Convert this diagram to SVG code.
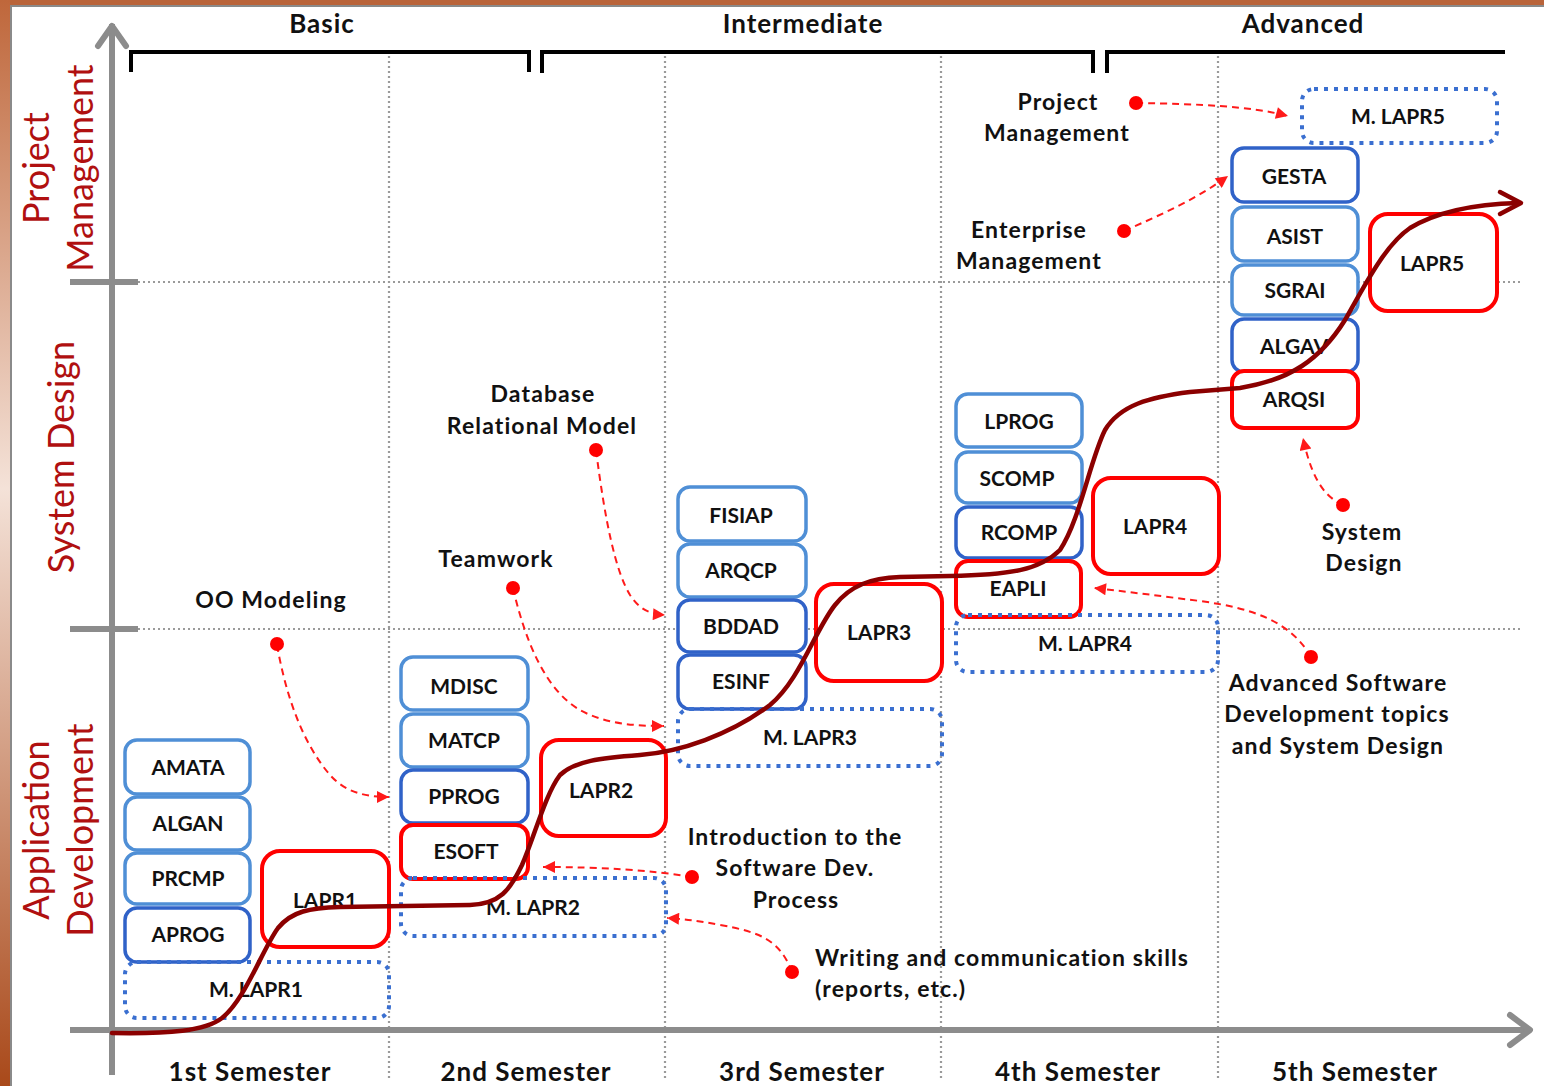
<svg xmlns="http://www.w3.org/2000/svg" width="1544" height="1086" viewBox="0 0 1544 1086">
  <defs>
    <linearGradient id="edge" x1="0" y1="0" x2="0" y2="1">
      <stop offset="0" stop-color="#bf673b"/>
      <stop offset="0.45" stop-color="#f4e2d8"/>
      <stop offset="1" stop-color="#a9491a"/>
    </linearGradient>
    <marker id="tip" viewBox="0 0 10 10" refX="10" refY="5" markerUnits="userSpaceOnUse" markerWidth="15" markerHeight="12" orient="auto">
      <path d="M0,0 L10,5 L0,10 z" fill="#ff1a1a"/>
    </marker>
    <style>
      .axis { stroke: #8c8c8c; stroke-width: 6; fill: none; }
      .grid { stroke: #9a9a9a; stroke-width: 2.2; stroke-dasharray: 2 3; fill: none; }
      .brace { stroke: #000; stroke-width: 4; fill: none; }
      .course { fill: #fff; stroke: #4f8fd6; stroke-width: 3.5; }
      .course.dark { stroke: #3062c8; }
      .proj { fill: #fff; stroke: #ff0000; stroke-width: 4; }
      .mentor { fill: none; stroke: #3a6fd0; stroke-width: 4; stroke-dasharray: 4 6; }
      .lbl { font-family: Lato, "Liberation Sans", sans-serif; font-weight: bold; font-size: 21px; fill: #111; text-anchor: middle; }
      .note { font-family: Lato, "Liberation Sans", sans-serif; font-weight: bold; font-size: 23px; letter-spacing: 1.1px; fill: #111; text-anchor: middle; }
      .note.left { text-anchor: start; }
      .head { font-family: Lato, "Liberation Sans", sans-serif; font-weight: bold; font-size: 26px; letter-spacing: 1px; fill: #111; text-anchor: middle; }
      .area { font-family: Lato, "Liberation Sans", sans-serif; font-size: 36px; fill: #b01010; text-anchor: middle; }
      .hint { stroke: #ff1a1a; stroke-width: 2; stroke-dasharray: 7 5; fill: none; }
      .dot { fill: #ff0000; }
      .trend { stroke: #8b0000; stroke-width: 4.5; fill: none; stroke-linecap: round; stroke-linejoin: round; }
    </style>
  </defs>

  <!-- page frame -->
  <rect x="0" y="0" width="1544" height="1086" fill="#fff"/>
  <rect x="0" y="0" width="1544" height="5" fill="#b9643a"/>
  <rect x="0" y="5" width="1544" height="2" fill="#8a8a8a"/>
  <rect x="0" y="0" width="10" height="1086" fill="url(#edge)"/>
  <rect x="10" y="5" width="2" height="1081" fill="#8a8a8a"/>

  <!-- grid -->
  <g id="grid">
    <path class="grid" d="M138,282 H1522 M138,629 H1522"/>
    <path class="grid" d="M389,56 V1080 M665,56 V1080 M941,56 V1080 M1218,56 V1080"/>
  </g>

  <!-- axes -->
  <g id="axes">
    <path class="axis" d="M112,24 V1075"/>
    <path class="axis" d="M98,46 L112,26 L126,46" stroke-linecap="round" stroke-linejoin="round"/>
    <path class="axis" d="M70,1030 H1530"/>
    <path class="axis" d="M1510,1015 L1530,1030 L1510,1045" stroke-linecap="round" stroke-linejoin="round"/>
    <path class="axis" d="M70,282 H138 M70,629 H138" stroke-width="8"/>
  </g>

  <!-- level braces -->
  <g id="levels">
    <path class="brace" d="M131,72 V52 H529 V72"/>
    <path class="brace" d="M542,73 V52 H1093 V73"/>
    <path class="brace" d="M1107,73 V52 H1505"/>
    <text class="head" x="322" y="33">Basic</text>
    <text class="head" x="803" y="33">Intermediate</text>
    <text class="head" x="1303" y="33">Advanced</text>
  </g>

  <!-- area titles -->
  <g id="areas">
    <text class="area" transform="translate(49,168) rotate(-90)">Project</text>
    <text class="area" transform="translate(93,168) rotate(-90)">Management</text>
    <text class="area" transform="translate(74,457) rotate(-90)">System Design</text>
    <text class="area" transform="translate(49,830) rotate(-90)">Application</text>
    <text class="area" transform="translate(93,830) rotate(-90)">Development</text>
  </g>

  <!-- semester labels -->
  <g id="semesters">
    <text class="head" x="250" y="1081">1st Semester</text>
    <text class="head" x="526" y="1081">2nd Semester</text>
    <text class="head" x="802" y="1081">3rd Semester</text>
    <text class="head" x="1078" y="1081">4th Semester</text>
    <text class="head" x="1355" y="1081">5th Semester</text>
  </g>

  <!-- 1st semester -->
  <g id="amata"><rect class="course" x="125" y="740" width="125" height="54" rx="12"/><text class="lbl" x="188" y="775">AMATA</text></g>
  <g id="algan"><rect class="course" x="125" y="797" width="125" height="53" rx="12"/><text class="lbl" x="188" y="831">ALGAN</text></g>
  <g id="prcmp"><rect class="course" x="125" y="853" width="125" height="51" rx="12"/><text class="lbl" x="188" y="886">PRCMP</text></g>
  <g id="aprog"><rect class="course dark" x="125" y="908" width="125" height="54" rx="12"/><text class="lbl" x="188" y="942">APROG</text></g>
  <g id="lapr1"><rect class="proj" x="262" y="851" width="127" height="96" rx="18"/><text class="lbl" x="325" y="908">LAPR1</text></g>
  <g id="m-lapr1"><rect class="mentor" x="125" y="962" width="264" height="56" rx="12"/><text class="lbl" x="256" y="997">M. LAPR1</text></g>

  <!-- 2nd semester -->
  <g id="mdisc"><rect class="course" x="401" y="657" width="127" height="53" rx="12"/><text class="lbl" x="464" y="694">MDISC</text></g>
  <g id="matcp"><rect class="course" x="401" y="714" width="127" height="53" rx="12"/><text class="lbl" x="464" y="748">MATCP</text></g>
  <g id="pprog"><rect class="course dark" x="401" y="770" width="127" height="53" rx="12"/><text class="lbl" x="464" y="804">PPROG</text></g>
  <g id="esoft"><rect class="proj" x="401" y="825" width="127" height="54" rx="12"/><text class="lbl" x="466" y="859">ESOFT</text></g>
  <g id="lapr2"><rect class="proj" x="541" y="740" width="125" height="96" rx="18"/><text class="lbl" x="601" y="798">LAPR2</text></g>
  <g id="m-lapr2"><rect class="mentor" x="401" y="878" width="265" height="58" rx="12"/><text class="lbl" x="533" y="915">M. LAPR2</text></g>

  <!-- 3rd semester -->
  <g id="fisiap"><rect class="course" x="678" y="487" width="128" height="54" rx="12"/><text class="lbl" x="741" y="523">FISIAP</text></g>
  <g id="arqcp"><rect class="course" x="678" y="544" width="128" height="53" rx="12"/><text class="lbl" x="741" y="578">ARQCP</text></g>
  <g id="bddad"><rect class="course dark" x="678" y="600" width="128" height="52" rx="12"/><text class="lbl" x="741" y="634">BDDAD</text></g>
  <g id="esinf"><rect class="course dark" x="678" y="655" width="128" height="54" rx="12"/><text class="lbl" x="741" y="689">ESINF</text></g>
  <g id="lapr3"><rect class="proj" x="816" y="584" width="126" height="97" rx="18"/><text class="lbl" x="879" y="640">LAPR3</text></g>
  <g id="m-lapr3"><rect class="mentor" x="678" y="709" width="264" height="57" rx="12"/><text class="lbl" x="810" y="745">M. LAPR3</text></g>

  <!-- 4th semester -->
  <g id="lprog"><rect class="course" x="956" y="394" width="126" height="53" rx="12"/><text class="lbl" x="1019" y="429">LPROG</text></g>
  <g id="scomp"><rect class="course" x="956" y="452" width="126" height="51" rx="12"/><text class="lbl" x="1017" y="486">SCOMP</text></g>
  <g id="rcomp"><rect class="course dark" x="956" y="507" width="126" height="51" rx="12"/><text class="lbl" x="1019" y="540">RCOMP</text></g>
  <g id="eapli"><rect class="proj" x="956" y="561" width="125" height="56" rx="12"/><text class="lbl" x="1018" y="596">EAPLI</text></g>
  <g id="lapr4"><rect class="proj" x="1093" y="478" width="126" height="96" rx="18"/><text class="lbl" x="1155" y="534">LAPR4</text></g>
  <g id="m-lapr4"><rect class="mentor" x="956" y="615" width="262" height="57" rx="12"/><text class="lbl" x="1085" y="651">M. LAPR4</text></g>

  <!-- 5th semester -->
  <g id="m-lapr5"><rect class="mentor" x="1302" y="89" width="195" height="54" rx="12"/><text class="lbl" x="1398" y="124">M. LAPR5</text></g>
  <g id="gesta"><rect class="course dark" x="1232" y="148" width="126" height="54" rx="12"/><text class="lbl" x="1294" y="184">GESTA</text></g>
  <g id="asist"><rect class="course" x="1232" y="207" width="126" height="54" rx="12"/><text class="lbl" x="1295" y="244">ASIST</text></g>
  <g id="sgrai"><rect class="course" x="1232" y="265" width="126" height="50" rx="12"/><text class="lbl" x="1295" y="298">SGRAI</text></g>
  <g id="algav"><rect class="course dark" x="1232" y="319" width="126" height="53" rx="12"/><text class="lbl" x="1294" y="354">ALGAV</text></g>
  <g id="arqsi"><rect class="proj" x="1232" y="371" width="126" height="57" rx="12"/><text class="lbl" x="1294" y="407">ARQSI</text></g>
  <g id="lapr5"><rect class="proj" x="1370" y="214" width="127" height="97" rx="18"/><text class="lbl" x="1432" y="271">LAPR5</text></g>

  <!-- learning curve -->
  <g id="curve">
    <path class="trend" d="M112,1033 C170,1034 205,1031 222,1018 C245,1000 262,950 278,928 C292,911 310,908 340,907 L470,905 C500,904 510,890 522,865 C535,835 545,795 560,775 C575,761 600,758 640,755 C680,752 730,735 770,705 C800,680 815,630 835,605 C850,586 870,578 900,577 L950,576 C1010,575 1040,570 1060,550 C1080,520 1090,460 1105,430 C1120,405 1150,397 1190,392 L1240,388 C1290,380 1320,360 1345,320 C1365,285 1385,245 1410,228 C1440,210 1480,204 1518,203"/>
    <path class="trend" d="M1500,192 L1521,203 L1500,214"/>
  </g>

  <!-- skill notes and their pointers -->
  <g id="connectors">
    <path class="hint" marker-end="url(#tip)" d="M277,645 C285,690 300,740 330,775 C345,792 365,797 389,797"/>
    <path class="hint" marker-end="url(#tip)" d="M513,588 C525,640 545,690 580,710 C605,724 635,726 664,726"/>
    <path class="hint" marker-end="url(#tip)" d="M596,450 C605,520 615,570 630,595 C640,610 650,614 665,615"/>
    <path class="hint" marker-end="url(#tip)" d="M692,877 C650,870 600,867 543,867"/>
    <path class="hint" marker-end="url(#tip)" d="M792,972 C780,940 760,932 720,925 C700,921 685,919 667,918"/>
    <path class="hint" marker-end="url(#tip)" d="M1136,103 C1200,104 1250,106 1288,116"/>
    <path class="hint" marker-end="url(#tip)" d="M1124,231 C1160,215 1195,200 1228,176"/>
    <path class="hint" marker-end="url(#tip)" d="M1343,505 C1320,495 1310,470 1303,438"/>
    <path class="hint" marker-end="url(#tip)" d="M1311,657 C1290,620 1250,608 1200,601 C1160,596 1130,592 1094,588"/>
  </g>

  <g id="oo-modeling"><circle class="dot" cx="277" cy="644" r="7"/><text class="note" x="271" y="608">OO Modeling</text></g>
  <g id="teamwork"><circle class="dot" cx="513" cy="588" r="7"/><text class="note" x="496" y="567">Teamwork</text></g>
  <g id="database"><circle class="dot" cx="596" cy="450" r="7"/><text class="note" x="543" y="402">Database</text><text class="note" x="542" y="434">Relational Model</text></g>
  <g id="intro-process"><circle class="dot" cx="692" cy="877" r="7"/><text class="note" x="795" y="845">Introduction to the</text><text class="note" x="795" y="876">Software Dev.</text><text class="note" x="796" y="908">Process</text></g>
  <g id="writing"><circle class="dot" cx="792" cy="972" r="7"/><text class="note left" x="815" y="966">Writing and communication skills</text><text class="note left" x="815" y="997">(reports, etc.)</text></g>
  <g id="project-mgmt"><circle class="dot" cx="1136" cy="103" r="7"/><text class="note" x="1058" y="110">Project</text><text class="note" x="1057" y="141">Management</text></g>
  <g id="enterprise-mgmt"><circle class="dot" cx="1124" cy="231" r="7"/><text class="note" x="1029" y="238">Enterprise</text><text class="note" x="1029" y="269">Management</text></g>
  <g id="system-design"><circle class="dot" cx="1343" cy="505" r="7"/><text class="note" x="1362" y="540">System</text><text class="note" x="1364" y="571">Design</text></g>
  <g id="advanced-sw"><circle class="dot" cx="1311" cy="657" r="7"/><text class="note" x="1338" y="691">Advanced Software</text><text class="note" x="1337" y="722">Development topics</text><text class="note" x="1338" y="754">and System Design</text></g>
</svg>
